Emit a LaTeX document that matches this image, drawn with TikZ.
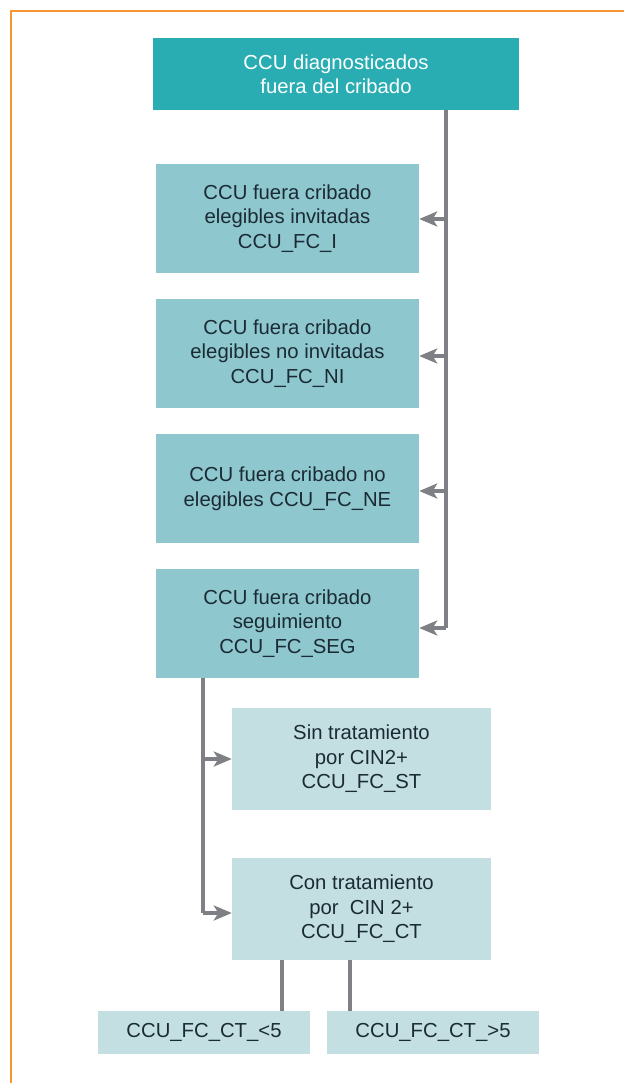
\documentclass[tikz,border=0pt]{standalone}
\usepackage{fontspec}
\setmainfont{Liberation Sans}
\usetikzlibrary{arrows.meta}
\definecolor{cabeza}{HTML}{29ADB3}
\definecolor{medio}{HTML}{8FC7CE}
\definecolor{claro}{HTML}{C4DFE2}
\definecolor{linea}{HTML}{7F8085}
\definecolor{marco}{HTML}{F7972F}
\definecolor{texto}{HTML}{1B2B35}
\begin{document}
\begin{tikzpicture}[x=1pt,y=-1pt,>={Stealth[length=18pt,width=15pt,inset=4.5pt]},
  caja/.style={inner sep=0pt,align=center,text=texto,
    font=\fontsize{20.3}{24.5}\selectfont},
  conn/.style={draw=linea,line width=3.2pt}]
\useasboundingbox (0,0) rectangle (624,1083);
\draw[marco,line width=2.8pt](11,1083)--(11,11)--(624,11);
% cajas
\node[caja,fill=cabeza,text=white,minimum width=366pt,minimum height=72pt] (cab) at (336,74) {CCU diagnosticados\\ fuera del cribado};
\node[caja,fill=medio,minimum width=263pt,minimum height=109pt] (fci) at (287.5,218.5) {CCU fuera cribado\\elegibles invitadas\\CCU\_FC\_I};
\node[caja,fill=medio,minimum width=263pt,minimum height=109pt] (fcni) at (287.5,353.5) {CCU fuera cribado\\elegibles no invitadas\\CCU\_FC\_NI};
\node[caja,fill=medio,minimum width=263pt,minimum height=109pt] (fcne) at (287.5,488.5) {CCU fuera cribado no\\elegibles CCU\_FC\_NE};
\node[caja,fill=medio,minimum width=263pt,minimum height=109pt] (seg) at (287.5,623.5) {CCU fuera cribado\\seguimiento\\CCU\_FC\_SEG};
\node[caja,fill=claro,minimum width=259pt,minimum height=102pt] (st) at (361.5,759) {Sin tratamiento\\por CIN2+\\CCU\_FC\_ST};
\node[caja,fill=claro,minimum width=259pt,minimum height=102pt] (ct) at (361.5,909) {Con tratamiento\\por\ \ CIN 2+\\CCU\_FC\_CT};
\node[caja,fill=claro,minimum width=212pt,minimum height=43pt] (ctm) at (204,1032.5) {CCU\_FC\_CT\_<5};
\node[caja,fill=claro,minimum width=212pt,minimum height=43pt] (ctM) at (433,1032.5) {CCU\_FC\_CT\_>5};
% lineas
\coordinate (tr) at (446,0);
\coordinate (tl) at (203,0);
\coordinate (ba) at (282,0);
\coordinate (bb) at (350,0);
\draw[conn](cab.south -| tr)--([yshift=-4.5pt]seg.east -| tr);
\draw[conn,->]([yshift=-.5pt]fci.east -| tr)--([yshift=-.5pt]fci.east);
\draw[conn,->]([yshift=-2.5pt]fcni.east -| tr)--([yshift=-2.5pt]fcni.east);
\draw[conn,->]([yshift=-2.5pt]fcne.east -| tr)--([yshift=-2.5pt]fcne.east);
\draw[conn,->]([yshift=-4.5pt]seg.east -| tr)--([yshift=-4.5pt]seg.east);
\draw[conn](seg.south -| tl)--([yshift=-4pt]ct.west -| tl);
\draw[conn,->](st.west -| tl)--(st.west);
\draw[conn,->]([yshift=-4pt]ct.west -| tl)--([yshift=-4pt]ct.west);
\draw[conn](ct.south -| ba)--(ctm.north -| ba);
\draw[conn](ct.south -| bb)--(ctM.north -| bb);
\end{tikzpicture}
\end{document}
